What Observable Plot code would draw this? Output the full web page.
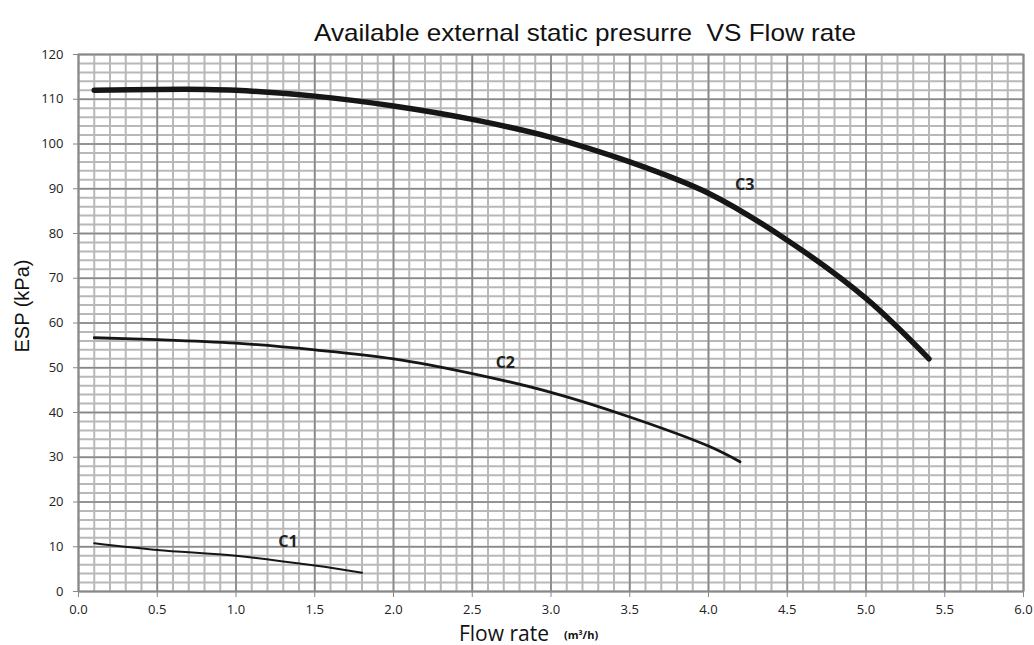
<!DOCTYPE html>
<html>
<head>
<meta charset="utf-8">
<script src="https://cdn.jsdelivr.net/npm/d3@7"></script>
<script src="https://cdn.jsdelivr.net/npm/@observablehq/plot@0.6"></script>
<style>
  html, body { margin: 0; padding: 0; background: #fff; }
  #chart svg { display: block; }
</style>
</head>
<body>
<div id="chart"></div>
<script>
// ---- data ----
const titleText = "Available external static presurre  VS Flow rate";
const xLabel = "Flow rate";
const xUnit = "(m³/h)";
const yLabel = "ESP (kPa)";

const xMajorTicks = d3.range(0, 6.01, 0.5);
const xMinorTicks = d3.range(0, 6.01, 0.1);
const yMajorTicks = d3.range(0, 121, 10);
const yMinorTicks = d3.range(0, 121, 2);

const flowC1 = [0.1, 0.5, 1.0, 1.5, 1.8];
const espC1  = [10.8, 9.3, 8.0, 5.8, 4.2];

const flowC2 = [0.1, 0.5, 1.0, 1.5, 2.0, 2.5, 3.0, 3.5, 4.0, 4.2];
const espC2  = [56.7, 56.3, 55.5, 54.0, 52.0, 48.7, 44.5, 39.0, 32.5, 29.0];

const flowC3 = [0.1, 0.5, 0.8, 1.0, 1.5, 2.0, 2.5, 3.0, 3.5, 4.0, 4.5, 5.0, 5.4];
const espC3  = [112.0, 112.2, 112.2, 112.0, 110.7, 108.5, 105.5, 101.5, 96.0, 89.0, 78.5, 65.5, 52.0];

const curveNames = ["C1", "C2", "C3"];
const labelFlow = [1.33, 2.71, 4.23];
const labelEsp  = [11.2, 51.2, 90.8];
const curveWidths = [2, 2.8, 5.5];

// ---- build tables ----
const series = [[flowC1, espC1], [flowC2, espC2], [flowC3, espC3]];
const lines = series.map(([fx, fy], i) => fx.map((x, j) => ({curve: curveNames[i], x, y: fy[j]})));
const labels = curveNames.map((n, i) => ({name: n, x: labelFlow[i], y: labelEsp[i]}));

const tickFont = "'Open Sans', 'Noto Sans', sans-serif";

const plot = Plot.plot({
  width: 1034,
  height: 645,
  marginLeft: 78,
  marginRight: 11,
  marginTop: 54,
  marginBottom: 54,
  style: {fontFamily: tickFont, fontSize: "13px", color: "#222", background: "#fff"},
  x: {domain: [0, 6], label: null},
  y: {domain: [0, 120], label: null},
  marks: [
    Plot.gridX(xMinorTicks, {stroke: "#b8b8b8", strokeOpacity: 1, strokeWidth: 2}),
    Plot.gridY(yMinorTicks, {stroke: "#b8b8b8", strokeOpacity: 1, strokeWidth: 2}),
    Plot.gridX(xMajorTicks, {stroke: "#888", strokeOpacity: 1, strokeWidth: 1.6}),
    Plot.gridY(yMajorTicks, {stroke: "#888", strokeOpacity: 1, strokeWidth: 1.6}),
    Plot.frame({stroke: "#888", strokeWidth: 1.6}),
    Plot.axisX({ticks: xMajorTicks, tickFormat: d3.format(".1f"), tickSize: 6, tickPadding: 7, stroke: "#888", label: null, fontSize: 13}),
    Plot.axisY({ticks: yMajorTicks, tickSize: 5, tickPadding: 10, stroke: "#888", label: null, fontSize: 13}),
    ...lines.map((data, i) => Plot.line(data, {
      x: "x", y: "y", curve: "catmull-rom",
      stroke: "#161616", strokeWidth: curveWidths[i], strokeLinecap: "round"
    })),
    Plot.text(labels, {x: "x", y: "y", text: "name", fontWeight: "bold", fontSize: 16,
      fontFamily: "'Open Sans', sans-serif", fill: "#222"}),
    Plot.text([titleText], {frameAnchor: "top", dx: 34, dy: -31, fontSize: 24, className: "ttl",
      fontFamily: "'Liberation Sans', Arial, sans-serif", fill: "#111"}),
    Plot.text([yLabel], {frameAnchor: "left", rotate: -90, textAnchor: "middle", dx: -56, dy: -17, fontSize: 20,
      fontFamily: "'Liberation Sans', Arial, sans-serif", fill: "#111"}),
    Plot.text([xLabel], {frameAnchor: "bottom", lineAnchor: "bottom", dx: -47, dy: 49, fontSize: 21,
      fontFamily: "'Open Sans', sans-serif", fill: "#111"}),
    Plot.text([xUnit], {frameAnchor: "bottom", lineAnchor: "bottom", dx: 30, dy: 47, fontSize: 11, fontWeight: "bold",
      fontFamily: "'Open Sans', sans-serif", fill: "#111"})
  ]
});
document.getElementById("chart").appendChild(plot);
// compress the title to the reference width
d3.select(plot).selectAll("g.ttl text").attr("textLength", 542).attr("lengthAdjust", "spacingAndGlyphs");
</script>
</body>
</html>
